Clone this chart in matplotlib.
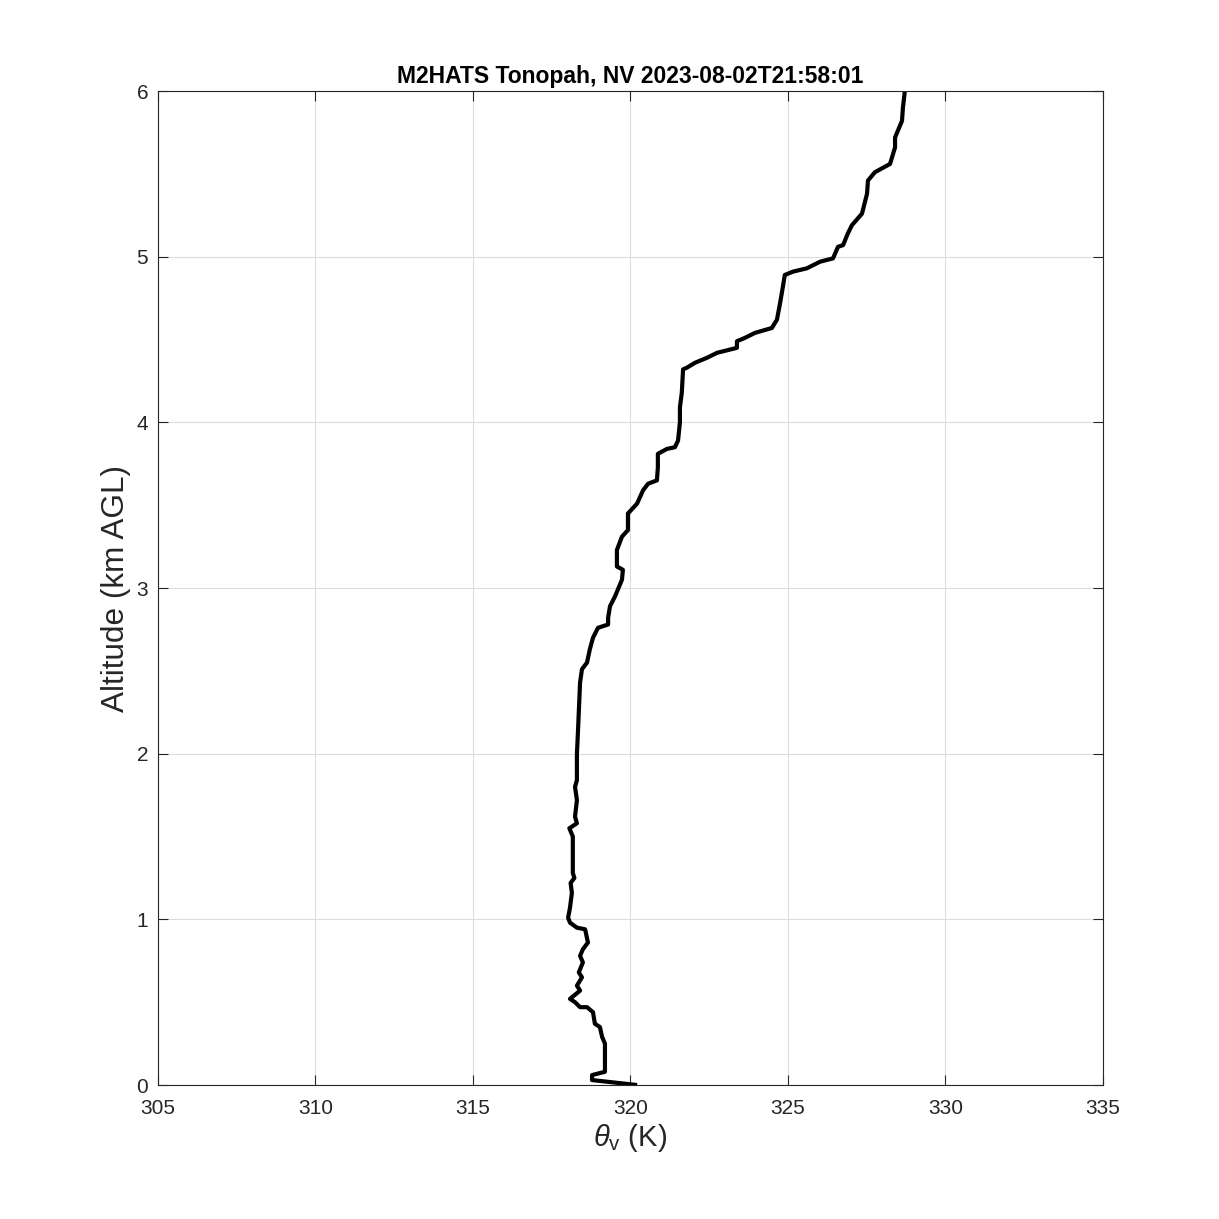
import matplotlib
matplotlib.use("Agg")
import matplotlib.pyplot as plt

# ---------- DATA ---------- #
theta_v = [320.21, 318.78, 318.78, 319.19, 319.19, 319.10, 319.03, 318.87,
           318.81, 318.62, 318.40, 318.24, 318.08, 318.40, 318.30, 318.46,
           318.36, 318.49, 318.40, 318.49, 318.65, 318.56, 318.30, 318.08,
           318.02, 318.08, 318.14, 318.10, 318.22, 318.17, 318.17, 318.06,
           318.30, 318.24, 318.30, 318.24, 318.30, 318.30, 318.33, 318.40,
           318.46, 318.62, 318.71, 318.81, 318.97, 319.29, 319.29, 319.35,
           319.51, 319.73, 319.76, 319.57, 319.57, 319.73, 319.92, 319.92,
           320.21, 320.40, 320.56, 320.84, 320.87, 320.87, 321.16, 321.41,
           321.51, 321.57, 321.57, 321.63, 321.67, 321.79, 322.05, 322.43,
           322.75, 323.38, 323.38, 323.63, 323.95, 324.49, 324.65, 324.75,
           324.84, 324.90, 325.16, 325.60, 326.02, 326.43, 326.59, 326.75,
           326.90, 327.03, 327.35, 327.51, 327.54, 327.76, 328.24, 328.40,
           328.40, 328.62, 328.65, 328.71]
alt_km = [0.00, 0.03, 0.06, 0.08, 0.25, 0.29, 0.35, 0.37,
          0.44, 0.47, 0.47, 0.50, 0.52, 0.57, 0.60, 0.65,
          0.68, 0.74, 0.78, 0.82, 0.86, 0.94, 0.95, 0.98,
          1.01, 1.07, 1.16, 1.22, 1.25, 1.28, 1.50, 1.55,
          1.58, 1.62, 1.72, 1.80, 1.84, 2.00, 2.12, 2.43,
          2.51, 2.55, 2.63, 2.70, 2.76, 2.78, 2.82, 2.89,
          2.95, 3.05, 3.11, 3.13, 3.23, 3.31, 3.35, 3.45,
          3.51, 3.59, 3.63, 3.65, 3.73, 3.81, 3.84, 3.85,
          3.89, 4.00, 4.09, 4.18, 4.32, 4.33, 4.36, 4.39,
          4.42, 4.45, 4.49, 4.51, 4.54, 4.57, 4.62, 4.72,
          4.82, 4.89, 4.91, 4.93, 4.97, 4.99, 5.06, 5.07,
          5.14, 5.19, 5.26, 5.38, 5.46, 5.51, 5.56, 5.66,
          5.72, 5.82, 5.90, 6.00]

x_ticks = [305, 310, 315, 320, 325, 330, 335]
y_ticks = [0, 1, 2, 3, 4, 5, 6]
title = "M2HATS Tonopah, NV 2023-08-02T21:58:01"

# ---------- STYLE ---------- #
plt.rcParams['font.family'] = ['Liberation Sans', 'DejaVu Sans']
plt.rcParams['mathtext.fontset'] = 'custom'
plt.rcParams['mathtext.rm'] = 'Liberation Sans'
plt.rcParams['mathtext.it'] = 'Liberation Sans:italic'

txt = '#262626'

fig = plt.figure(figsize=(12.19, 12.19), dpi=100)
ax = fig.add_axes([0.1296, 0.1099, 0.7752, 0.8154])

ax.plot(theta_v, alt_km, color='black', linewidth=3.0,
        solid_joinstyle='round', solid_capstyle='butt')

ax.set_xlim(305, 335)
ax.set_ylim(0, 6)
ax.set_xticks(x_ticks)
ax.set_yticks(y_ticks)
ax.tick_params(direction='in', top=True, right=True, length=7, width=0.8,
               colors=txt, labelsize=15)
ax.tick_params(axis='x', pad=10)
ax.tick_params(axis='y', pad=7)
ax.grid(True, color='#dcdcdc', linewidth=0.8)
ax.set_axisbelow(True)
for s in ax.spines.values():
    s.set_color(txt)
    s.set_linewidth(0.8)

ax.set_xlabel(r'$\theta_{\mathrm{v}}$ (K)', fontsize=21, color=txt, labelpad=3)
ax.set_ylabel('Altitude (km AGL)', fontsize=22.7, color=txt, labelpad=4)
ax.set_title(title, fontsize=16.5, fontweight='bold', color='black', pad=6)

fig.savefig("out.png", dpi=100, facecolor='white')
